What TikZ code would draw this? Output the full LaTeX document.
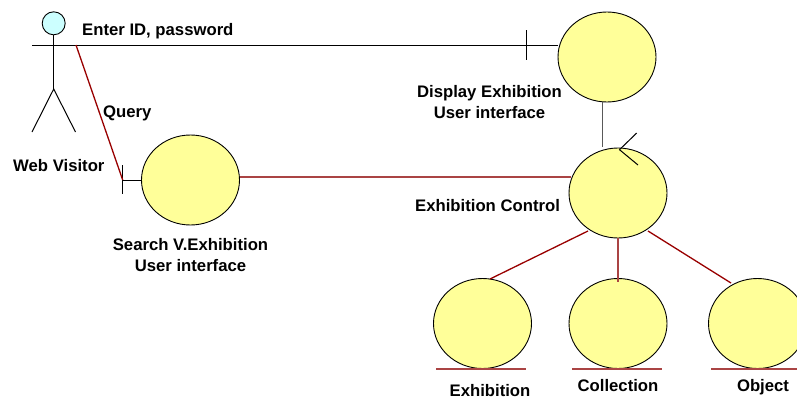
\documentclass[tikz,border=0pt]{standalone}
\usepackage{fontspec}
\setmainfont{Liberation Sans}
\usetikzlibrary{shapes.geometric}
\definecolor{obj}{HTML}{FFFF99}
\definecolor{headc}{HTML}{CCFFFF}
\definecolor{rel}{HTML}{990000}
\definecolor{relsoft}{HTML}{AA4444}
\tikzset{
  obn/.style={ellipse,draw=black,fill=obj,line width=0.9pt,minimum width=98pt,minimum height=90pt,inner sep=0pt},
  lbl/.style={font=\fontsize{16.7}{21}\selectfont\bfseries,text=black,align=center,inner sep=0pt},
  redl/.style={draw=rel,line width=1.3pt},
  redh/.style={draw=relsoft,line width=1.3pt},
  blk/.style={draw=black,line width=1pt},
  grayl/.style={draw=black!65,line width=1.3pt}
}
\begin{document}
\begin{tikzpicture}[x=1pt,y=-1pt]
\useasboundingbox (0,0) rectangle (797,399);
\fill[white] (0,0) rectangle (797,399);
% actor
\node[circle,draw=black,fill=headc,line width=0.9pt,minimum size=23pt,inner sep=0pt] (head) at (53.7,23.3) {};
\coordinate (hip) at (53.7,89);
\coordinate (lfoot) at (32,132);
\coordinate (rfoot) at (75.5,132);
\coordinate (armL) at (32,45);
\coordinate (armR) at (76,45);
\draw[blk] (head) -- (hip);
\draw[blk] (lfoot) -- (hip) -- (rfoot);
% objects
\node[obn] (search) at (190.5,180) {};
\node[obn] (display) at (607,57) {};
\node[obn] (control) at (618,193) {};
\node[obn] (exhib) at (482.5,323.5) {};
\node[obn] (coll) at (618,323.5) {};
\node[obn] (object) at (757.5,323.5) {};
% boundary
\coordinate (b1t) at (122.7,165);
\coordinate (b1b) at (122.7,194);
\coordinate (b1m) at (122.7,180);
\coordinate (b2t) at (526,30);
\coordinate (b2b) at (526,60);
\coordinate (d1) at (557.5,45);
\draw[blk] (b1t) -- (b1b);
\draw[blk] (b1m) -- (search.180);
\draw[blk] (b2t) -- (b2b);
\draw[blk] (armL) -- (d1);
% relations
\draw[redl] (armR) -- (b1m);
\coordinate (s1) at (240,177);
\coordinate (c1) at (571,177);
\draw[redh] (s1) -- (c1);
\coordinate (dv) at (602.7,102);
\coordinate (cv) at (602.7,146.5);
\draw[grayl] (dv) -- (cv);
\coordinate (ctip) at (619.5,149.7);
\coordinate (ct1) at (636.7,133);
\coordinate (ct2) at (638,165);
\draw[blk] (ct1) -- (ctip) -- (ct2);
\coordinate (c2) at (588,231);
\coordinate (e2) at (490,279);
\draw[redl] (c2) -- (e2);
\coordinate (c3) at (618,238);
\coordinate (e3) at (618,282);
\draw[redh] (c3) -- (e3);
\coordinate (c4) at (648,231);
\coordinate (e4) at (731,283);
\draw[redl] (c4) -- (e4);
% entity underlines
\coordinate (u1a) at (436,369); \coordinate (u1b) at (526,369);
\coordinate (u2a) at (572,369); \coordinate (u2b) at (662,369);
\coordinate (u3a) at (711,369); \coordinate (u3b) at (797,369);
\draw[redh] (u1a) -- (u1b);
\draw[redh] (u2a) -- (u2b);
\draw[redh] (u3a) -- (u3b);
% labels
\node[lbl,anchor=west] (t1) at (82,30.7) {Enter ID, password};
\node[lbl,anchor=west] (t2) at (103,113.7) {Query};
\node[lbl,anchor=west] (t3) at (13,165.7) {Web Visitor};
\node[lbl] (t4) at (190.5,255.2) {Search V.Exhibition\\User interface};
\node[lbl] (t5) at (489.5,102.2) {Display Exhibition\\User interface};
\node[lbl,anchor=west] (t6) at (415,205.7) {Exhibition Control};
\node[lbl] (t7) at (490,390.7) {Exhibition};
\node[lbl] (t8) at (618,385.7) {Collection};
\node[lbl] (t9) at (763,386.7) {Object};
\end{tikzpicture}
\end{document}
